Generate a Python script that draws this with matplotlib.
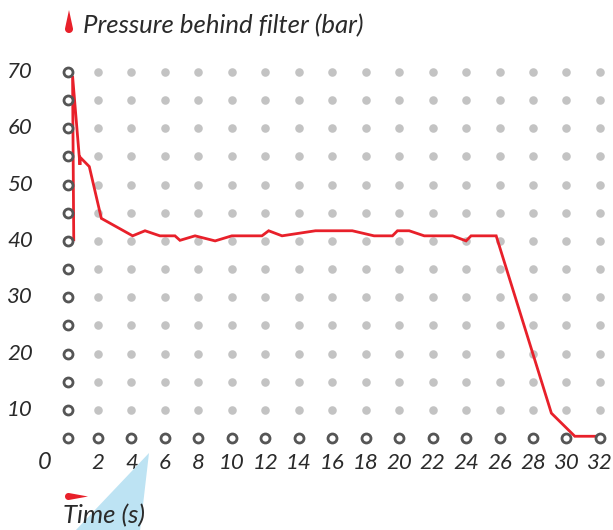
"""Pressure behind filter over time: dot-grid chart with a red trace."""
import numpy as np
import matplotlib
matplotlib.use("Agg")
import matplotlib.pyplot as plt
from matplotlib.patches import Polygon
from matplotlib.transforms import IdentityTransform

# trace (time in s, pressure in bar)
time_s = [0.55, 0.48, 0.92, 0.95, 1.48, 2.2, 4.07, 4.81, 5.7, 6.6, 6.9, 7.8, 9.0,
          10.0, 11.8, 12.2, 13.0, 15.0, 17.2, 18.5, 19.6, 19.9, 20.6, 21.5, 23.2,
          24.0, 24.3, 25.8, 29.1, 30.5, 32.0]
pressure = [40.2, 69.3, 53.5, 54.8, 53.2, 44.0, 40.9, 41.8, 40.9, 40.9, 40.1, 40.9, 40.0,
            40.9, 40.9, 41.8, 40.9, 41.8, 41.8, 40.9, 40.9, 41.8, 41.8, 40.9, 40.9,
            40.0, 40.9, 40.9, 9.4, 5.3, 5.3]

grid_x = [0.2] + list(range(2, 33, 2))
grid_y = list(range(5, 71, 5))
xtick_vals = list(range(2, 33, 2))
ytick_vals = list(range(10, 71, 10))

W, H = 613, 530
RED = "#e8202a"
TXT = "#2a2a2a"
FONT = "Lato"

fig = plt.figure(figsize=(W / 100, H / 100), dpi=100)
ax = fig.add_axes([0, 0, 1, 1])
# pixel mapping: x=2 -> px 98, 16.73 px/s ; y=70 -> py 72, 5.63 px/bar
ax.set_xlim(2 - 98 / 16.73, 2 + (W - 98) / 16.73)
ax.set_ylim(70 - (H - 72) / 5.63, 70 + 72 / 5.63)
ax.axis("off")

gx, gy = np.meshgrid(grid_x, grid_y)
inner = (gx != grid_x[0]) & (gy != grid_y[0])
ax.scatter(gx[inner], gy[inner], s=38, color="#c3c3c3", lw=0, zorder=1)
ax.scatter(gx[~inner], gy[~inner], s=42, facecolor="white", edgecolor="#555555",
           lw=2.0, zorder=4)

ax.plot(time_s, pressure, color=RED, lw=2.0, solid_joinstyle="miter", zorder=3)

for v in xtick_vals:
    ax.text(v, 0.6, str(v), ha="center", va="center", fontsize=16,
            family=FONT, style="italic", color=TXT)
for v in ytick_vals:
    ax.text(-1.9, v, str(v), ha="right", va="center", fontsize=16,
            family=FONT, style="italic", color=TXT)
ax.text(-1.2, 0.6, "0", ha="center", va="center", fontsize=17,
        family=FONT, style="italic", color=TXT)

# decorations in pixel space (y measured from top)
def px(points):
    return [(x, H - y) for x, y in points]


def teardrop(cx, cy, r, tx, ty, n=40):
    d = np.hypot(tx - cx, ty - cy)
    base = np.arctan2(ty - cy, tx - cx)
    a = np.arccos(r / d)
    t = np.linspace(base + a, base + 2 * np.pi - a, n)
    pts = [(tx, ty)] + list(zip(cx + r * np.cos(t), cy + r * np.sin(t)))
    return pts


tri = Polygon(px([(149, 453), (75, 531), (140, 531)]), closed=True,
              facecolor="#bde3f3", edgecolor="none", transform=IdentityTransform())
fig.patches.append(tri)
drop_up = Polygon(px(teardrop(69, 29, 4, 69, 10)), closed=True, facecolor=RED,
                  edgecolor="none", transform=IdentityTransform())
fig.patches.append(drop_up)
drop_right = Polygon(px(teardrop(68.5, 496.5, 3.5, 88, 496.5)), closed=True,
                     facecolor=RED, edgecolor="none", transform=IdentityTransform())
fig.patches.append(drop_right)

fig.text(83 / W, 1 - 33 / H, "Pressure behind filter (bar)", ha="left", va="baseline",
         fontsize=18.5, family=FONT, style="italic", color=TXT)
fig.text(63 / W, 1 - 523 / H, "Time (s)", ha="left", va="baseline",
         fontsize=18.5, family=FONT, style="italic", color=TXT, zorder=5)

fig.savefig("out.png", dpi=100)
